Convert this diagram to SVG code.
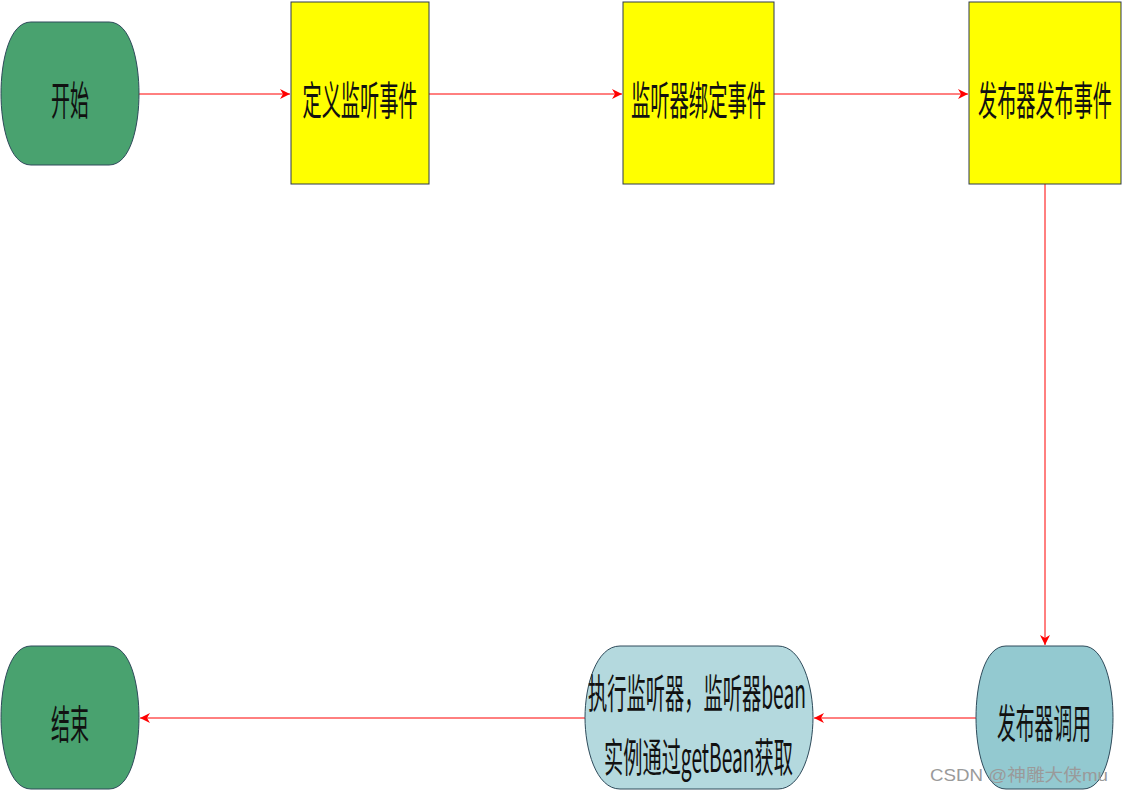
<svg xmlns="http://www.w3.org/2000/svg" width="1123" height="794" viewBox="0 0 1123 794">
<defs>
<style>
.t{font-family:"Noto Sans CJK SC","Liberation Sans",sans-serif;font-size:40px;fill:#111;text-anchor:middle;dominant-baseline:central}
.box{fill:#FFFF00;stroke:#2E3B4E;stroke-width:1}
.term{stroke:#2E4A5A;stroke-width:1}
.edge{stroke:#FF0000;stroke-width:1;fill:none;marker-end:url(#ah)}
.wm{font-family:"Liberation Sans","Noto Sans CJK SC",sans-serif;font-size:17px;fill:#9a9a9a}
</style>
<marker id="ah" viewBox="0 0 10 10" refX="10" refY="5" markerWidth="10" markerHeight="10" markerUnits="userSpaceOnUse" orient="auto">
<path d="M0,0 L10,5 L0,10 L3,5 Z" fill="#FF0000"/>
</marker>
<path id="termShape" d="M30,0 H108 C130,0 138,40 138,71.5 C138,103 130,143 108,143 H30 C8,143 0,103 0,71.5 C0,40 8,0 30,0 Z"/>
</defs>
<rect width="1123" height="794" fill="#fff"/>
<g id="connectors">
<line class="edge" x1="139" y1="94" x2="290" y2="94"/>
<line class="edge" x1="429" y1="94" x2="622" y2="94"/>
<line class="edge" x1="774" y1="94" x2="968" y2="94"/>
<line class="edge" x1="1045" y1="184" x2="1045" y2="645"/>
<line class="edge" x1="976" y1="718" x2="814" y2="718"/>
<line class="edge" x1="585" y1="718" x2="140" y2="718"/>
</g>
<g id="start">
<path class="term" fill="#49A26F" d="M31,22 H109 C131,22 139,62 139,93.5 C139,125 131,165 109,165 H31 C9,165 1,125 1,93.5 C1,62 9,22 31,22 Z"/>
<text class="t" x="70" y="98" textLength="38" lengthAdjust="spacingAndGlyphs">开始</text>
</g>
<g id="define">
<rect class="box" x="291" y="2" width="138" height="182"/>
<text class="t" x="360" y="98" textLength="115" lengthAdjust="spacingAndGlyphs">定义监听事件</text>
</g>
<g id="bind">
<rect class="box" x="623" y="2" width="151" height="182"/>
<text class="t" x="698.5" y="98" textLength="135" lengthAdjust="spacingAndGlyphs">监听器绑定事件</text>
</g>
<g id="publish">
<rect class="box" x="969" y="2" width="152" height="182"/>
<text class="t" x="1045" y="98" textLength="134" lengthAdjust="spacingAndGlyphs">发布器发布事件</text>
</g>
<g id="invoke">
<path class="term" fill="#93C9D0" d="M1006,646 H1083 C1105,646 1113,686 1113,717.5 C1113,749 1105,789 1083,789 H1006 C984,789 976,749 976,717.5 C976,686 984,646 1006,646 Z"/>
<text class="t" x="1044" y="721" textLength="94" lengthAdjust="spacingAndGlyphs">发布器调用</text>
</g>
<g id="execute">
<path class="term" fill="#B4D9DE" d="M620,646 H778 C802,646 813,686 813,717.5 C813,749 802,789 778,789 H620 C596,789 585,749 585,717.5 C585,686 596,646 620,646 Z"/>
<text class="t" x="697" y="691" textLength="218" lengthAdjust="spacingAndGlyphs">执行监听器，监听器bean</text>
<text class="t" x="698.5" y="755" textLength="189" lengthAdjust="spacingAndGlyphs">实例通过getBean获取</text>
</g>
<g id="end">
<path class="term" fill="#49A26F" d="M31,646 H109 C131,646 139,686 139,717.5 C139,749 131,789 109,789 H31 C9,789 1,749 1,717.5 C1,686 9,646 31,646 Z"/>
<text class="t" x="70" y="722" textLength="38" lengthAdjust="spacingAndGlyphs">结束</text>
</g>
<text class="wm" x="930" y="781" textLength="178" lengthAdjust="spacingAndGlyphs">CSDN @神雕大侠mu</text>
</svg>
